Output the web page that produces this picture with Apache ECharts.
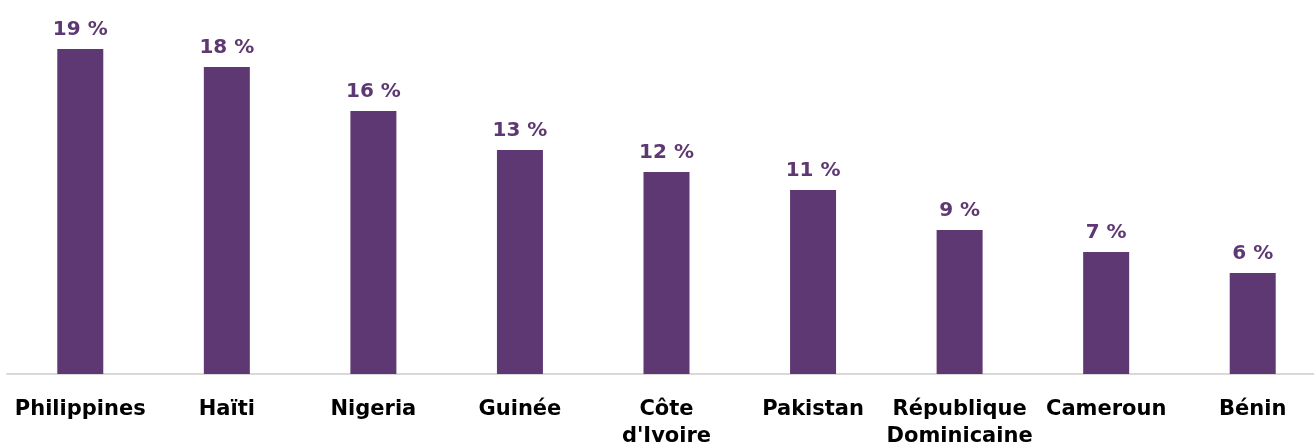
<!DOCTYPE html>
<html><head><meta charset="utf-8">
<script src="https://cdn.jsdelivr.net/npm/echarts@6/dist/echarts.min.js"></script>
<style>html,body{margin:0;padding:0;background:#fff}#c{width:1314px;height:448px}</style>
</head><body><div id="c"></div>
<script>
const categories = ['Philippines', 'Haïti', 'Nigeria', 'Guinée', 'Côte\nd\'Ivoire', 'Pakistan', 'République\nDominicaine', 'Cameroun', 'Bénin'];
const values = [19.35, 18.27, 15.65, 13.33, 12.02, 10.95, 8.57, 7.26, 6.01];
const labels = ['19 %', '18 %', '16 %', '13 %', '12 %', '11 %', '9 %', '7 %', '6 %'];

const chart = echarts.init(document.getElementById('c'));
chart.setOption({
  animation: false,
  grid: { left: 7, width: 1319, top: 38, bottom: 74, containLabel: false, outerBoundsMode: 'none' },
  xAxis: {
    type: 'category', data: categories,
    axisLine: { lineStyle: { color: '#d9d9d9', width: 2 } },
    axisTick: { show: false },
    axisLabel: { color: '#000', fontFamily: 'DejaVu Sans', fontWeight: 'bold', fontSize: 21, margin: 22, lineHeight: 27, interval: 0 }
  },
  yAxis: { type: 'value', min: 0, max: 20, show: false, splitLine: { show: false } },
  series: [{
    type: 'bar', data: values, barWidth: 46,
    itemStyle: { color: '#5e3872' },
    label: {
      show: true, position: 'top', distance: 9,
      color: '#5e3872', fontFamily: 'DejaVu Sans', fontWeight: 'bold', fontSize: 20,
      formatter: p => labels[p.dataIndex]
    }
  }]
});
</script></body></html>
